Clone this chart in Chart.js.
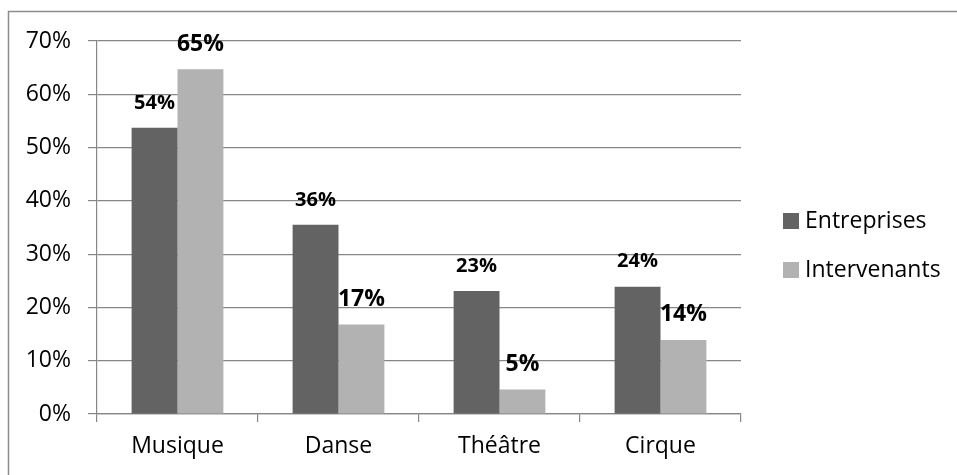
<!DOCTYPE html>
<html>
<head>
<meta charset="utf-8">
<script src="https://cdn.jsdelivr.net/npm/chart.js@4"></script>
<style>
  html, body { margin: 0; padding: 0; background: #fff; }
  #wrap { width: 957px; height: 475px; position: relative; }
</style>
</head>
<body>
<div id="wrap"><canvas id="chart" width="957" height="475"></canvas></div>
<script>
const categories = ["Musique", "Danse", "Théâtre", "Cirque"];
const entreprises = [53.7, 35.5, 23.1, 23.9];
const intervenants = [64.7, 16.8, 4.6, 13.9];
const seriesNames = ["Entreprises", "Intervenants"];
const yTicks = [0, 10, 20, 30, 40, 50, 60, 70];

const FONT = "'Open Sans'";
const gridColor = "#868686";

// labels on top of each bar, rounded like the source
const barLabels = {
  id: "barLabels",
  afterDatasetsDraw(chart) {
    const ctx = chart.ctx;
    ctx.save();
    ctx.fillStyle = "#000";
    ctx.textAlign = "center";
    ctx.textBaseline = "middle";
    chart.data.datasets.forEach((ds, i) => {
      const size = i === 0 ? 20 : 23;
      ctx.font = "bold " + size + "px " + FONT;
      chart.getDatasetMeta(i).data.forEach((bar, j) => {
        ctx.fillText(Math.round(ds.data[j]) + "%", bar.x, bar.y - 25);
      });
    });
    ctx.restore();
  }
};

// legend on the right + outer frame
const sideLegend = {
  id: "sideLegend",
  afterDraw(chart) {
    const ctx = chart.ctx;
    ctx.save();
    ctx.strokeStyle = "#8c8c8c";
    ctx.lineWidth = 1.5;
    ctx.beginPath();
    ctx.moveTo(8.5, 476);
    ctx.lineTo(8.5, 11.5);
    ctx.lineTo(958, 11.5);
    ctx.stroke();

    ctx.font = "23px " + FONT;
    ctx.textBaseline = "middle";
    ctx.textAlign = "left";
    chart.data.datasets.forEach((ds, i) => {
      const y = 221 + i * 49;
      ctx.fillStyle = ds.backgroundColor;
      ctx.fillRect(783, y - 8, 16, 16);
      ctx.fillStyle = "#000";
      ctx.fillText(ds.label, 805, y);
    });
    ctx.restore();
  }
};

new Chart(document.getElementById("chart"), {
  type: "bar",
  data: {
    labels: categories,
    datasets: [
      { label: seriesNames[0], data: entreprises, backgroundColor: "#636363" },
      { label: seriesNames[1], data: intervenants, backgroundColor: "#b2b2b2" }
    ]
  },
  options: {
    responsive: false,
    animation: false,
    devicePixelRatio: 1,
    layout: { padding: { left: 0, top: 41, right: 216, bottom: 0 } },
    datasets: { bar: { barPercentage: 1, categoryPercentage: 0.57 } },
    plugins: { legend: { display: false }, tooltip: { enabled: false } },
    scales: {
      x: {
        afterFit: s => { s.height = 61; },
        grid: {
          offset: true,
          drawOnChartArea: false,
          color: gridColor,
          lineWidth: 1.2,
          tickLength: 8
        },
        border: { color: gridColor, width: 1.2 },
        ticks: { color: "#000", font: { family: FONT, size: 23 }, padding: 11 }
      },
      y: {
        min: 0,
        max: 70,
        afterFit: s => { s.width = 97; },
        afterBuildTicks: s => { s.ticks = yTicks.map(v => ({ value: v })); },
        grid: { color: gridColor, lineWidth: 1.2, tickLength: 9 },
        border: { color: gridColor, width: 1.2 },
        ticks: {
          color: "#000",
          font: { family: FONT, size: 23 },
          padding: 17,
          callback: v => v + "%"
        }
      }
    }
  },
  plugins: [barLabels, sideLegend]
});
</script>
</body>
</html>
